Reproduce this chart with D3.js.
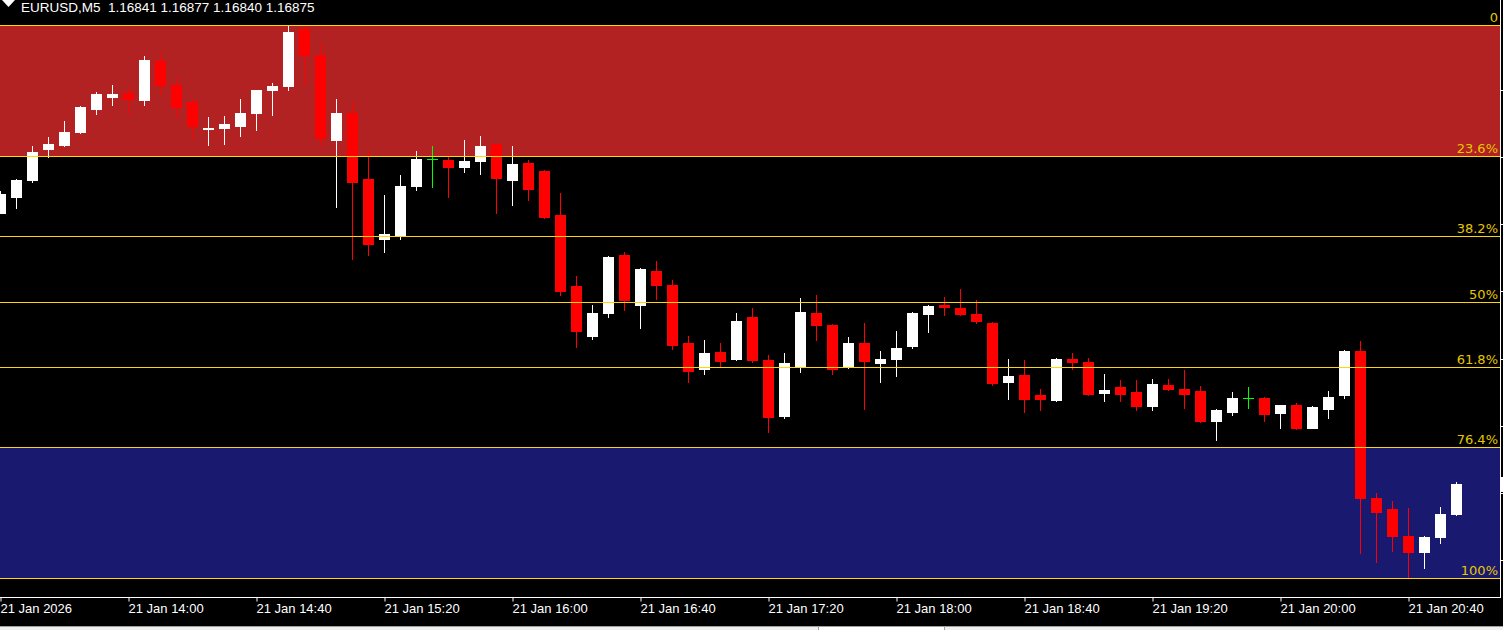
<!DOCTYPE html>
<html>
<head>
<meta charset="utf-8">
<script src="https://cdn.jsdelivr.net/npm/d3@7"></script>
<style>
  html, body { margin: 0; padding: 0; background: #000; overflow: hidden; }
  svg { display: block; }
</style>
</head>
<body>
<div id="vis"></div>
<script>
// EURUSD M5 candles, 21 Jan 2026 13:20 .. 20:55
const open = [1.17182,1.17200,1.17219,1.17254,1.17258,1.17273,1.17299,1.17313,1.17317,1.17309,
  1.17353,1.17326,1.17307,1.17276,1.17278,1.17280,1.17294,1.17320,1.17325,1.17390,
  1.17360,1.17264,1.17294,1.17220,1.17152,1.17155,1.17212,1.17242,1.17241,1.17234,
  1.17240,1.17259,1.17219,1.17238,1.17229,1.17179,1.17099,1.17042,1.17068,1.17134,
  1.17077,1.17116,1.17100,1.17035,1.17005,1.17024,1.17016,1.17064,1.17015,1.16952,
  1.17008,1.17068,1.17055,1.17007,1.17035,1.17012,1.17016,1.17031,1.17067,1.17077,
  1.17074,1.17067,1.17057,1.16990,1.16998,1.16976,1.16970,1.17017,1.17013,1.16978,
  1.16985,1.16979,1.16963,1.16987,1.16983,1.16980,1.16946,1.16957,1.16973,1.16972,
  1.16956,1.16965,1.16939,1.16960,1.16976,1.17025,1.16859,1.16847,1.16817,1.16798,
  1.16815,1.16841];
const high = [1.17206,1.17220,1.17257,1.17267,1.17286,1.17302,1.17318,1.17326,1.17324,1.17359,
  1.17363,1.17334,1.17310,1.17290,1.17291,1.17310,1.17321,1.17329,1.17393,1.17394,
  1.17372,1.17310,1.17308,1.17252,1.17202,1.17225,1.17252,1.17257,1.17247,1.17264,
  1.17269,1.17260,1.17257,1.17241,1.17230,1.17204,1.17110,1.17078,1.17133,1.17137,
  1.17119,1.17127,1.17106,1.17042,1.17038,1.17035,1.17068,1.17074,1.17021,1.17023,
  1.17086,1.17089,1.17056,1.17041,1.17057,1.17026,1.17048,1.17070,1.17078,1.17087,
  1.17096,1.17083,1.17058,1.17016,1.17015,1.16983,1.17018,1.17023,1.17018,1.16999,
  1.16993,1.16993,1.16994,1.16994,1.17004,1.16986,1.16960,1.16979,1.16985,1.16974,
  1.16965,1.16967,1.16963,1.16980,1.17027,1.17037,1.16865,1.16856,1.16848,1.16816,
  1.16849,1.16877];
const low = [1.17181,1.17187,1.17216,1.17245,1.17257,1.17272,1.17293,1.17304,1.17293,1.17304,
  1.17316,1.17290,1.17266,1.17258,1.17260,1.17268,1.17275,1.17292,1.17321,1.17327,
  1.17258,1.17188,1.17129,1.17134,1.17137,1.17152,1.17207,1.17211,1.17200,1.17228,
  1.17226,1.17181,1.17190,1.17196,1.17176,1.17089,1.17030,1.17039,1.17064,1.17072,
  1.17051,1.17084,1.17028,1.16991,1.17000,1.17009,1.17015,1.17013,1.16934,1.16950,
  1.17002,1.17038,1.16999,1.17006,1.16960,1.16991,1.16997,1.17029,1.17047,1.17066,
  1.17066,1.17057,1.16987,1.16971,1.16957,1.16959,1.16969,1.17005,1.16976,1.16969,
  1.16969,1.16959,1.16959,1.16982,1.16961,1.16945,1.16925,1.16953,1.16961,1.16946,
  1.16939,1.16937,1.16938,1.16950,1.16972,1.16797,1.16787,1.16799,1.16769,1.16780,
  1.16809,1.16840];
const close = [1.17203,1.17219,1.17251,1.17259,1.17273,1.17301,1.17316,1.17316,1.17310,1.17354,
  1.17326,1.17301,1.17280,1.17278,1.17282,1.17294,1.17320,1.17325,1.17386,1.17360,
  1.17266,1.17295,1.17217,1.17146,1.17158,1.17212,1.17243,1.17242,1.17233,1.17240,
  1.17257,1.17221,1.17237,1.17209,1.17177,1.17093,1.17048,1.17068,1.17132,1.17083,
  1.17118,1.17100,1.17032,1.17003,1.17023,1.17014,1.17059,1.17015,1.16951,1.17012,
  1.17070,1.17055,1.17005,1.17035,1.17014,1.17017,1.17029,1.17069,1.17076,1.17075,
  1.17067,1.17059,1.16989,1.16997,1.16971,1.16971,1.17017,1.17013,1.16977,1.16982,
  1.16977,1.16963,1.16988,1.16983,1.16977,1.16946,1.16959,1.16972,1.16973,1.16954,
  1.16964,1.16939,1.16962,1.16974,1.17026,1.16859,1.16844,1.16817,1.16798,1.16815,
  1.16841,1.16875];

// time axis labels (every 8th bar = 40 min)
const tickIdx = [0, 8, 16, 24, 32, 40, 48, 56, 64, 72, 80, 88];
const tickLabels = ["21 Jan 2026", "21 Jan 14:00", "21 Jan 14:40", "21 Jan 15:20", "21 Jan 16:00",
  "21 Jan 16:40", "21 Jan 17:20", "21 Jan 18:00", "21 Jan 18:40", "21 Jan 19:20",
  "21 Jan 20:00", "21 Jan 20:40"];

// fibonacci retracement levels
const fibLevels = [0, 23.6, 38.2, 50, 61.8, 76.4, 100];
const fibLabels = ["0", "23.6%", "38.2%", "50%", "61.8%", "76.4%", "100%"];

// hidden price scale ticks
const priceTicks = [1.16789, 1.16865, 1.16941, 1.17017, 1.17093, 1.17169, 1.17245, 1.17321];

const W = 1503, H = 630;
const plotRight = 1500, plotTop = 25, plotBottom = 578, axisY = 597.5;

const svg = d3.select("#vis").append("svg")
    .attr("width", W)
    .attr("height", H);

svg.append("rect").attr("width", W).attr("height", H).attr("fill", "#000");

const hi = d3.max(high), lo = d3.min(low);

const x = d3.scaleLinear().domain([0, 91]).range([0, 1456]);
const y = d3.scaleLinear().domain([lo, hi]).range([plotBottom, plotTop]);

const fibPrice = (lvl) => hi - (hi - lo) * lvl / 100;
const py = (p) => Math.round(y(p));

// zones
svg.append("rect")
    .attr("x", 0).attr("width", plotRight)
    .attr("y", py(fibPrice(0))).attr("height", py(fibPrice(23.6)) - py(fibPrice(0)))
    .attr("fill", "#b22222");
svg.append("rect")
    .attr("x", 0).attr("width", plotRight)
    .attr("y", py(fibPrice(76.4))).attr("height", py(fibPrice(100)) - py(fibPrice(76.4)))
    .attr("fill", "#191970");

// candles
const bars = d3.range(open.length).map((i) => ({
  i: i, o: open[i], h: high[i], l: low[i], c: close[i]
}));

const g = svg.append("g").attr("shape-rendering", "crispEdges");

const col = (d) => d.c === d.o ? "#00ff00" : (d.c > d.o ? "#ffffff" : "#ff0000");

g.selectAll(".wick")
    .data(bars)
    .enter()
    .append("rect")
    .attr("class", "wick")
    .attr("x", (d) => Math.round(x(d.i)))
    .attr("width", 1)
    .attr("y", (d) => py(d.h))
    .attr("height", (d) => py(d.l) - py(d.h) + 1)
    .attr("fill", col);

g.selectAll(".body")
    .data(bars)
    .enter()
    .append("rect")
    .attr("class", "body")
    .attr("x", (d) => Math.round(x(d.i)) - 5)
    .attr("width", 11)
    .attr("y", (d) => py(Math.max(d.o, d.c)))
    .attr("height", (d) => py(Math.min(d.o, d.c)) - py(Math.max(d.o, d.c)) + 1)
    .attr("fill", col);

// fib lines + labels
const fib = svg.append("g");
fib.selectAll("line")
    .data(fibLevels)
    .enter()
    .append("line")
    .attr("x1", 0).attr("x2", plotRight)
    .attr("y1", (d) => py(fibPrice(d)) + 0.5)
    .attr("y2", (d) => py(fibPrice(d)) + 0.5)
    .attr("stroke", "#ffd700")
    .attr("stroke-width", 1);

fib.selectAll("text")
    .data(fibLevels)
    .enter()
    .append("text")
    .attr("x", 1498)
    .attr("y", (d) => py(fibPrice(d)) - 3)
    .attr("text-anchor", "end")
    .attr("fill", "#e6c800")
    .style("font", "13px 'DejaVu Sans'")
    .text((d, i) => fibLabels[i]);

// frame
svg.append("line")
    .attr("x1", plotRight + 0.5).attr("x2", plotRight + 0.5)
    .attr("y1", 0).attr("y2", axisY)
    .attr("stroke", "#fff");
svg.append("line")
    .attr("x1", 0).attr("x2", plotRight + 1)
    .attr("y1", axisY).attr("y2", axisY)
    .attr("stroke", "#fff");

// price scale ticks (labels off-screen)
svg.append("g").selectAll("line")
    .data(priceTicks)
    .enter()
    .append("line")
    .attr("x1", plotRight).attr("x2", W)
    .attr("y1", (d) => py(d) + 0.5)
    .attr("y2", (d) => py(d) + 0.5)
    .attr("stroke", "#fff");

// current price marker stub
svg.append("rect")
    .attr("x", plotRight + 1).attr("width", 2)
    .attr("y", py(close[close.length - 1]) - 7).attr("height", 15)
    .attr("fill", "#fff");

// time axis
const xAxis = d3.axisBottom(x)
    .tickValues(tickIdx)
    .tickFormat((d, i) => tickLabels[i])
    .tickSize(4)
    .tickSizeOuter(0);

const ax = svg.append("g")
    .attr("transform", "translate(0," + axisY + ")")
    .call(xAxis);
ax.select(".domain").remove();
ax.selectAll(".tick line").attr("stroke", "#fff").attr("transform", "translate(0.5,0)");
ax.selectAll(".tick text")
    .attr("fill", "#fff")
    .attr("text-anchor", "start")
    .attr("x", 0)
    .attr("y", 6)
    .attr("dy", "0.75em")
    .style("font", "13px 'Liberation Sans'");

// header
svg.append("path")
    .attr("d", "M2,0 L15,0 L8.5,7 Z")
    .attr("fill", "#fff");
svg.append("text")
    .attr("x", 21).attr("y", 12)
    .attr("fill", "#fff")
    .style("font", "13.5px 'Liberation Sans'")
    .attr("xml:space", "preserve")
    .style("white-space", "pre")
    .text("EURUSD,M5  " + [open[91], high[91], low[91], close[91]].map((v) => v.toFixed(5)).join(" "));

// tab strip at the bottom
svg.append("rect").attr("x", 0).attr("y", 626).attr("width", W).attr("height", 4).attr("fill", "#f0f0f0");
svg.append("rect").attr("x", 819).attr("y", 627).attr("width", 125).attr("height", 3).attr("fill", "#fff");
svg.append("line").attr("x1", 0).attr("x2", W).attr("y1", 626.5).attr("y2", 626.5).attr("stroke", "#a0a0a0");
svg.append("line").attr("x1", 818.5).attr("x2", 818.5).attr("y1", 626).attr("y2", 630).attr("stroke", "#a0a0a0");
svg.append("line").attr("x1", 944.5).attr("x2", 944.5).attr("y1", 626).attr("y2", 630).attr("stroke", "#a0a0a0");
</script>
</body>
</html>
